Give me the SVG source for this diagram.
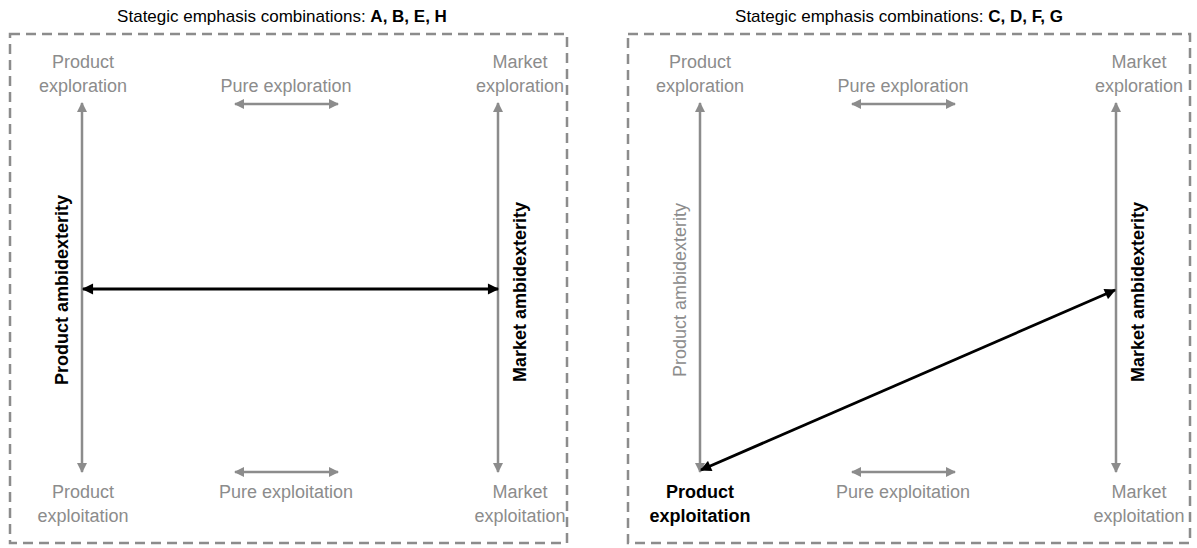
<svg xmlns="http://www.w3.org/2000/svg" width="1197" height="548" viewBox="0 0 1197 548">
<defs>
<style>
text{font-family:"Liberation Sans",Arial,sans-serif;font-size:18px;text-anchor:middle}
.t{font-size:17px}
.g{fill:#8c8c8c}
.b{fill:#000;font-weight:bold}
.box{fill:none;stroke:#8c8c8c;stroke-width:2.5;stroke-dasharray:10,6}
.ga{stroke:#8c8c8c;stroke-width:2.5;fill:none;marker-start:url(#gs);marker-end:url(#ge)}
.ka{stroke:#000;stroke-width:2.8;fill:none;marker-start:url(#ks);marker-end:url(#ke)}
</style>
<marker id="ge" viewBox="0 0 10 10" refX="9" refY="5" markerWidth="4" markerHeight="4" orient="auto" markerUnits="strokeWidth"><path d="M0,0L10,5L0,10z" fill="#8c8c8c"/></marker>
<marker id="gs" viewBox="0 0 10 10" refX="1" refY="5" markerWidth="4" markerHeight="4" orient="auto" markerUnits="strokeWidth"><path d="M10,0L0,5L10,10z" fill="#8c8c8c"/></marker>
<marker id="ke" viewBox="0 0 10 10" refX="9" refY="5" markerWidth="5" markerHeight="4" orient="auto" markerUnits="strokeWidth"><path d="M0,0L10,5L0,10z" fill="#000"/></marker>
<marker id="ks" viewBox="0 0 10 10" refX="1" refY="5" markerWidth="5" markerHeight="4" orient="auto" markerUnits="strokeWidth"><path d="M10,0L0,5L10,10z" fill="#000"/></marker>
</defs>
<rect width="1197" height="548" fill="#fff"/>

<g id="panel-left">
<text class="t" x="282" y="22" fill="#000">Stategic emphasis combinations: <tspan font-weight="bold">A, B, E, H</tspan></text>
<rect class="box" x="10" y="34" width="557" height="509"/>
</g>
<g id="node-l-prod-explor"><text class="g" x="83" y="68">Product</text><text class="g" x="83" y="92">exploration</text></g>
<g id="node-l-pure-explor"><text class="g" x="286" y="92">Pure exploration</text></g>
<g id="node-l-mkt-explor"><text class="g" x="520" y="68">Market</text><text class="g" x="520" y="92">exploration</text></g>
<g id="node-l-prod-ambi"><text class="b" transform="translate(68,290) rotate(-90)">Product ambidexterity</text></g>
<g id="node-l-mkt-ambi"><text class="b" transform="translate(526,292) rotate(-90)">Market ambidexterity</text></g>
<g id="node-l-prod-exploit"><text class="g" x="83" y="498">Product</text><text class="g" x="83" y="522">exploitation</text></g>
<g id="node-l-pure-exploit"><text class="g" x="286" y="498">Pure exploitation</text></g>
<g id="node-l-mkt-exploit"><text class="g" x="520" y="498">Market</text><text class="g" x="520" y="522">exploitation</text></g>

<g id="panel-right">
<text class="t" x="899" y="22" fill="#000">Stategic emphasis combinations: <tspan font-weight="bold">C, D, F, G</tspan></text>
<rect class="box" x="628" y="34" width="562" height="509"/>
</g>
<g id="node-r-prod-explor"><text class="g" x="700" y="68">Product</text><text class="g" x="700" y="92">exploration</text></g>
<g id="node-r-pure-explor"><text class="g" x="903" y="92">Pure exploration</text></g>
<g id="node-r-mkt-explor"><text class="g" x="1139" y="68">Market</text><text class="g" x="1139" y="92">exploration</text></g>
<g id="node-r-prod-ambi"><text class="g" transform="translate(686,290) rotate(-90)">Product ambidexterity</text></g>
<g id="node-r-mkt-ambi"><text class="b" transform="translate(1144,292) rotate(-90)">Market ambidexterity</text></g>
<g id="node-r-prod-exploit"><text class="b" x="700" y="498">Product</text><text class="b" x="700" y="522">exploitation</text></g>
<g id="node-r-pure-exploit"><text class="g" x="903" y="498">Pure exploitation</text></g>
<g id="node-r-mkt-exploit"><text class="g" x="1139" y="498">Market</text><text class="g" x="1139" y="522">exploitation</text></g>

<g id="connectors">
<line class="ga" x1="82" y1="103" x2="82" y2="472"/>
<line class="ga" x1="498" y1="103" x2="498" y2="472"/>
<line class="ga" x1="235" y1="104" x2="338" y2="104"/>
<line class="ga" x1="235" y1="472" x2="338" y2="472"/>
<line class="ka" x1="83" y1="289" x2="498" y2="289"/>
<line class="ga" x1="700" y1="103" x2="700" y2="472"/>
<line class="ga" x1="1116" y1="103" x2="1116" y2="472"/>
<line class="ga" x1="852" y1="104" x2="955" y2="104"/>
<line class="ga" x1="852" y1="472" x2="955" y2="472"/>
<line class="ka" x1="701" y1="470" x2="1115" y2="290"/>
</g>
</svg>
